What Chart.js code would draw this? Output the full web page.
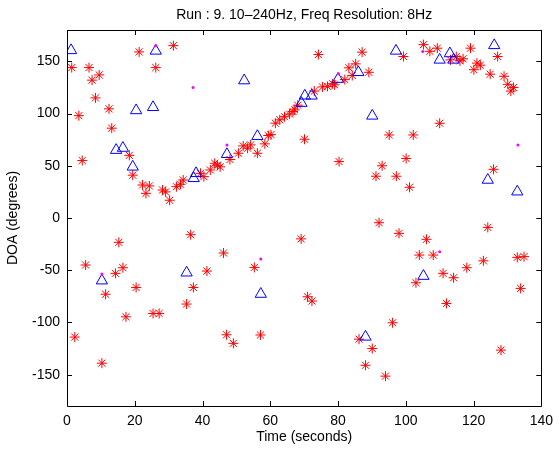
<!DOCTYPE html>
<html>
<head>
<meta charset="utf-8">
<script src="https://cdn.jsdelivr.net/npm/chart.js@4.4.1/dist/chart.umd.min.js"></script>
<style>
  html, body { margin: 0; padding: 0; background: #fff; }
</style>
</head>
<body>
<canvas id="myChart" width="560" height="450"></canvas>
<script>
// ---- data (time in s, DOA in degrees) ----
const starT = [
  1.4, 6.5, 9.5, 7.4, 8.4, 3.5, 12.4, 13.2, 4.5, 21.3, 26.2, 31.4,
  18.4, 19.4, 22.3, 24.3, 23.3, 28.2, 29.1, 30.3, 32.3, 33.5, 34.3, 39.4, 40.4,
  42.3, 43.6, 44.4, 45.2, 48.1, 50.6, 52, 53.3, 54.2, 56.2, 58.4, 59.4, 60.2,
  61.5, 62.8, 64.2, 65.7, 66.7, 67.2, 68.1, 70.1, 73, 74.2, 75.4, 76.9, 78.4, 79,
  80.3, 82, 83.2, 85.2, 84.2, 87.1, 89.1, 91.2, 93, 95.1, 97.2, 99.3, 100.1, 101.1,
  102.2, 105.2, 107.1, 109.3, 110, 113.2, 114.9, 116, 116.9, 119.1, 120.1, 121, 122,
  124.9, 125.9, 127.1, 129, 130.1, 131, 131.8,
  36.5, 15.3, 5.5, 14.3, 16.5, 11.4, 20.4, 41.3, 37.3, 46.2, 17.4, 25.4, 27.2, 35.3,
  2.3, 10.3, 47.1, 55.3, 69.1, 71, 72.3, 49.1, 57.1, 92.1, 86.2, 90.1, 88.1, 94,
  98, 106.1, 104, 108.1, 103, 111, 114.1, 118, 122.9, 124.2, 132.9, 134.9, 133.9,
  112, 96.1, 128.1
];
const starDoa = [
  144, 144, 137, 132, 115, 98, 104.5, 86, 55, 159, 144, 165,
  60, 41, 31.6, 30.7, 23.6, 26.8, 25, 17, 30, 32.3, 36.4, 42.8, 39.6,
  46, 52.4, 50.5, 49, 56, 62, 69, 66.8, 70, 62, 71, 79, 79.8,
  90.8, 94, 97, 99.5, 102, 103.5, 108, 75.4, 121.5, 156.5, 125.5, 126, 128.5, 127.5,
  54, 132.5, 143.8, 147.6, 136.5, 158.8, 139.5, 40, 50, 79.5, 40, 154.6, 57, 29.4,
  79.5, 166, 159.6, 162.6, 90.7, 151.4, 154.6, 150.5, 152.4, 162.6, 142, 148.3, 146.3,
  137.7, 46.6, 154.6, 135.7, 128, 121.5, 125,
  -16, -23.3, -45, -53, -47.6, -73, -66.5, -50.8, -66.5, -33.5, -94.6, -91.4, -91.4, -82.4,
  -114, -139, -111.8, -47.3, -20, -75.4, -79.5, -120, -112, -4.5, -116, -125, -141, -151.4,
  -14.7, -20.4, -35.5, -35.5, -62, -53, -57.2, -47.6, -41, -9, -37.7, -37, -67.4,
  -81.8, -100.3, -126.5
];

const triT = [
  1.2, 26.2, 20.4, 25.4, 14.5, 16.5, 19.4, 37.4, 38.1, 47.2, 52.3, 56.2, 69.2, 70.2,
  72.2, 80, 86, 90.1, 97.1, 110, 113, 114.1, 126.1, 124.2, 132.9,
  10.3, 35.3, 57.2, 88.1, 105.2
];
const triDoa = [
  160.5, 160, 103, 106, 65, 67, 49, 38, 42.8, 61, 131.6, 78.3, 110, 117,
  117, 133, 139.5, 97.8, 160, 151.4, 157.5, 151.4, 165.3, 36.4, 25.2,
  -60, -52.4, -72.8, -113.8, -55.6
];

const dotT = [26.2, 37.2, 47.2, 57.2, 80.1, 105, 110, 133.1, 10.3];
const dotDoa = [165, 125, 70, -39.3, 138, 159.4, -32.3, 70, -53.7];

const xTicks = [0, 20, 40, 60, 80, 100, 120, 140];
const yTicks = [-150, -100, -50, 0, 50, 100, 150];

function pairs(xs, ys) {
  return xs.map((x, i) => ({ x: x, y: ys[i] }));
}

// MATLAB style box with inward tick marks on all four sides
const boxTicks = {
  id: 'boxTicks',
  afterDatasetsDraw(chart) {
    const ctx = chart.ctx;
    const a = chart.chartArea;
    const xs = chart.scales.x, ys = chart.scales.y;
    const len = 5;
    ctx.save();
    ctx.strokeStyle = '#000';
    ctx.lineWidth = 1;
    ctx.beginPath();
    ctx.rect(Math.round(a.left) + 0.5, Math.round(a.top) + 0.5,
             Math.round(a.right - a.left), Math.round(a.bottom - a.top));
    xTicks.forEach(v => {
      const px = Math.round(xs.getPixelForValue(v)) + 0.5;
      ctx.moveTo(px, a.bottom); ctx.lineTo(px, a.bottom - len);
      ctx.moveTo(px, a.top); ctx.lineTo(px, a.top + len);
    });
    yTicks.forEach(v => {
      const py = Math.round(ys.getPixelForValue(v)) + 0.5;
      ctx.moveTo(a.left, py); ctx.lineTo(a.left + len, py);
      ctx.moveTo(a.right, py); ctx.lineTo(a.right - len, py);
    });
    ctx.stroke();
    ctx.restore();
  }
};

document.addEventListener("DOMContentLoaded", () => {
  Chart.defaults.font.family = '"Liberation Sans", Arial, Helvetica, sans-serif';
  Chart.defaults.font.size = 14;
  Chart.defaults.color = '#000';

  const ctx = document.getElementById('myChart').getContext('2d');

  const data = {
    datasets: [
      {
        label: 'weak',
        data: pairs(dotT, dotDoa),
        pointStyle: 'circle',
        pointRadius: 1.5,
        pointBackgroundColor: '#ff00ff',
        pointBorderColor: '#ff00ff',
        pointBorderWidth: 0
      },
      {
        label: 'tracked',
        data: pairs(triT, triDoa),
        pointStyle: 'triangle',
        pointRadius: 6.5,
        pointBackgroundColor: 'rgba(0,0,0,0)',
        pointBorderColor: '#0000ff',
        pointBorderWidth: 1
      },
      {
        label: 'estimates',
        data: pairs(starT, starDoa),
        pointStyle: 'star',
        pointRadius: 5,
        pointBackgroundColor: '#ff0000',
        pointBorderColor: '#ff0000',
        pointBorderWidth: 1
      }
    ]
  };

  const config = {
    type: 'scatter',
    data: data,
    options: {
      responsive: false,
      animation: false,
      devicePixelRatio: 1,
      layout: { padding: { left: 0, right: 14, top: 0, bottom: 0 } },
      plugins: {
        legend: { display: false },
        tooltip: { enabled: false },
        title: {
          display: true,
          fullSize: false,
          text: 'Run : 9. 10\u2013240Hz, Freq Resolution: 8Hz',
          color: '#000',
          font: { size: 14, weight: 'normal', lineHeight: 1.2 },
          padding: { top: 6.6, bottom: 6.6 }
        }
      },
      scales: {
        x: {
          type: 'linear',
          min: 0,
          max: 140,
          grid: { display: false, drawTicks: false },
          border: { display: false },
          ticks: { stepSize: 20, padding: 7, color: '#000' },
          title: { display: true, text: 'Time (seconds)', color: '#000', padding: { top: 0, bottom: 4 } },
          afterFit: (scale) => { scale.height = 44; }
        },
        y: {
          type: 'linear',
          min: -180,
          max: 180,
          grid: { display: false, drawTicks: false },
          border: { display: false },
          ticks: { padding: 7, color: '#000' },
          afterBuildTicks: (scale) => { scale.ticks = yTicks.map(v => ({ value: v })); },
          title: { display: true, text: 'DOA (degrees)', color: '#000', padding: { top: 5, bottom: 0 } },
          afterFit: (scale) => { scale.width = 67; }
        }
      }
    },
    plugins: [boxTicks]
  };

  const myChart = new Chart(ctx, config);
});
</script>
</body>
</html>
